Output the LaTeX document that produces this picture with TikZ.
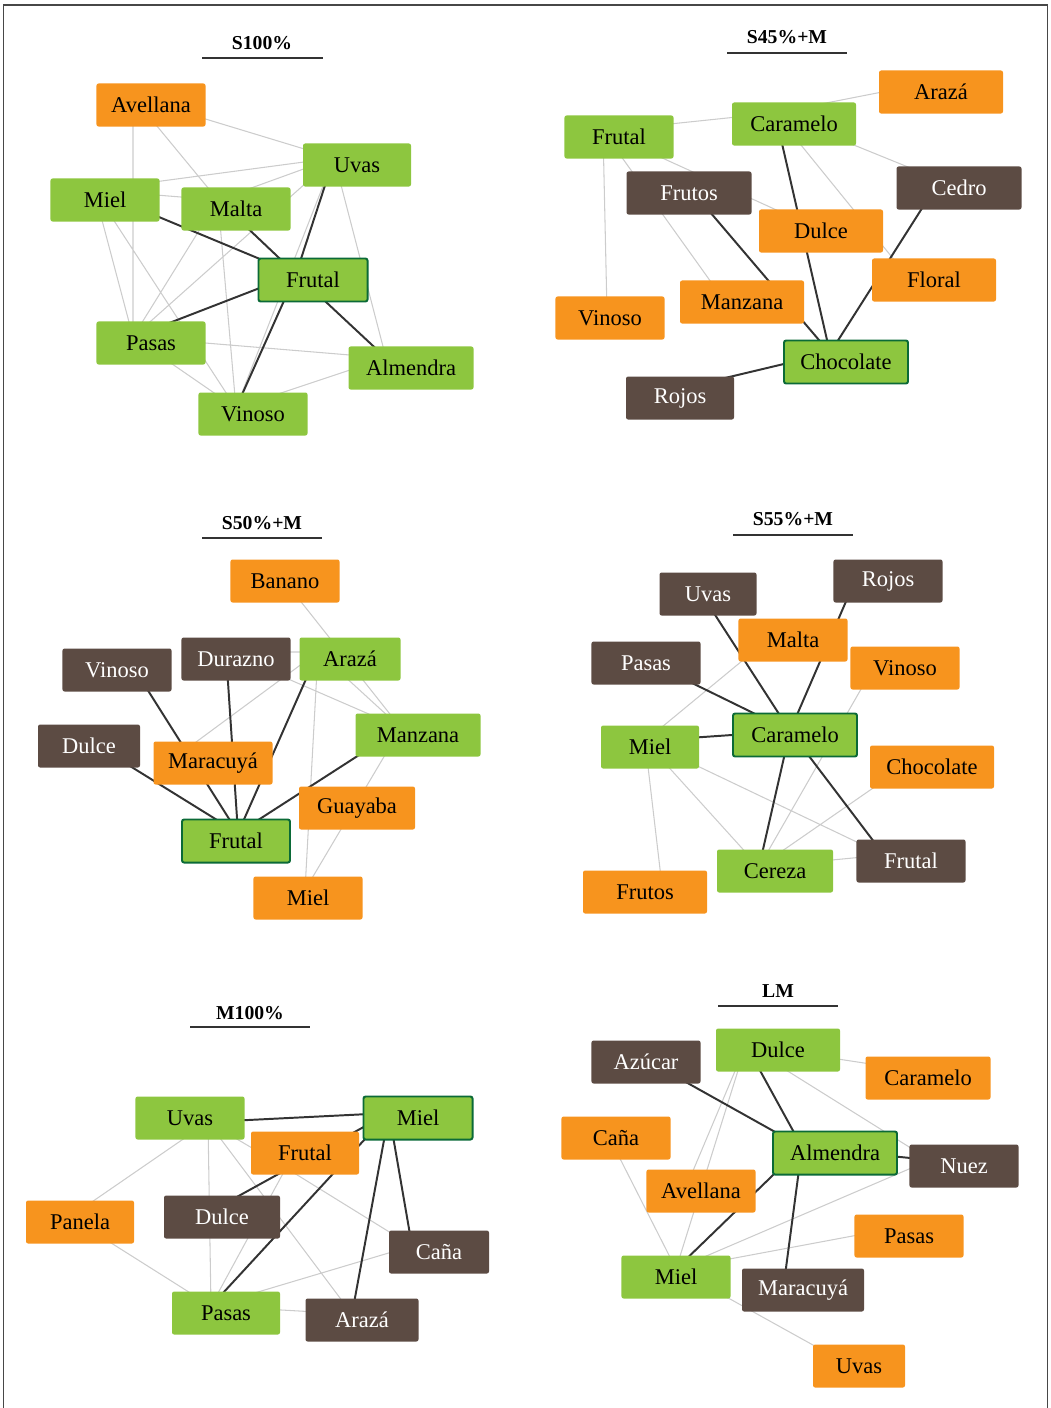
\documentclass[tikz,border=0pt]{standalone}
\usepackage{fontspec}
\setmainfont{Liberation Serif}

\definecolor{leafgreen}{HTML}{8DC63F}
\definecolor{tanorange}{HTML}{F7941E}
\definecolor{barkbrown}{HTML}{5C4B43}
\definecolor{rimgreen}{HTML}{0B6A37}
\definecolor{edgegrey}{HTML}{CCCCCC}
\definecolor{edgedark}{HTML}{333333}

\tikzset{
  box/.style={rectangle, rounded corners=1.5pt, inner sep=2pt,
    minimum width=2.725cm, minimum height=1.075cm,
    font=\fontsize{16}{19}\selectfont},
  gbox/.style={box, fill=leafgreen},
  obox/.style={box, fill=tanorange},
  bbox/.style={box, fill=barkbrown, text=white},
  core/.style={box, fill=leafgreen, draw=rimgreen, line width=1.4pt},
  wd/.style={minimum width=#1*0.025cm},
  weak/.style={edgegrey, line width=0.75pt},
  strong/.style={edgedark, line width=1.4pt},
  title/.style={font=\fontsize{14}{17}\selectfont\bfseries},
  rule/.style={edgedark, line width=1.2pt},
}

\begin{document}
\begin{tikzpicture}[x=0.025cm, y=-0.025cm]
\useasboundingbox (0,0) rectangle (1051,1408);
% marco
\draw[edgedark!90, line width=1.2pt] (3.5,1408) |- (1047.5,5) -- (1047.5,1408);

% S100%
\begin{scope}[name prefix=s1-]
  \node[title] (head) at (262,43) {S100\%};
  \draw[rule] (202,58) -- (323,58);
  \coordinate (av) at (133,97);
  \coordinate (uv) at (334,158);
  \coordinate (mi) at (94,190);
  \coordinate (ma) at (218,200);
  \coordinate (fr) at (296,274);
  \coordinate (pa) at (133,337);
  \coordinate (al) at (386,358);
  \coordinate (vi) at (236,408);
  \draw[weak] (av) -- (uv) (av) -- (pa) (av) -- (ma) (mi) -- (uv)
    (ma) -- (uv) (mi) -- (ma) (uv) -- (pa) (ma) -- (pa) (mi) -- (pa)
    (mi) -- (vi) (ma) -- (vi) (uv) -- (al) (uv) -- (vi) (pa) -- (al)
    (pa) -- (vi) (al) -- (vi);
  \draw[strong] (mi) -- (fr) (ma) -- (fr) (uv) -- (fr) (pa) -- (fr)
    (fr) -- (al) (fr) -- (vi);
  \node[obox] (avellana) at (151,105) {Avellana};
  \node[gbox, wd=108] (uvas) at (357,165) {Uvas};
  \node[gbox] (miel) at (105,200) {Miel};
  \node[gbox] (malta) at (236,209) {Malta};
  \node[core] (frutal) at (313,280) {Frutal};
  \node[gbox] (pasas) at (151,343) {Pasas};
  \node[gbox, wd=125] (almendra) at (411,368) {Almendra};
  \node[gbox] (vinoso) at (253,414) {Vinoso};
\end{scope}

% S45%+M
\begin{scope}[name prefix=s2-]
  \node[title] (head) at (787,37) {S45\%+M};
  \draw[rule] (727,53) -- (847,53);
  \coordinate (ar) at (923,84);
  \coordinate (ca) at (775,113);
  \coordinate (fr) at (603,131);
  \coordinate (fs) at (687,185);
  \coordinate (ce) at (940,180);
  \coordinate (du) at (805,223);
  \coordinate (fl) at (904,272);
  \coordinate (ma) at (721,296);
  \coordinate (vi) at (607,312);
  \coordinate (ch) at (830,353);
  \coordinate (ro) at (662,393);
  \draw[weak] (ca) -- (ar) (fr) -- (ca) (fr) -- (vi) (fr) -- (ma)
    (fr) -- (du) (ca) -- (fl) (ca) -- (ce);
  \draw[strong] (ca) -- (ch) (fs) -- (ch) (ce) -- (ch) (ro) -- (ch);
  \node[obox, wd=124] (araza) at (941,92) {Arazá};
  \node[gbox, wd=124] (caramelo) at (794,124) {Caramelo};
  \node[gbox] (frutal) at (619,137) {Frutal};
  \node[bbox, wd=125] (frutos) at (689,193) {Frutos};
  \node[bbox, wd=125] (cedro) at (959,188) {Cedro};
  \node[obox, wd=124] (dulce) at (821,231) {Dulce};
  \node[obox, wd=124] (floral) at (934,280) {Floral};
  \node[obox, wd=124] (manzana) at (742,302) {Manzana};
  \node[obox] (vinoso) at (610,318) {Vinoso};
  \node[core, wd=124] (chocolate) at (846,362) {Chocolate};
  \node[bbox, wd=108] (rojos) at (680,398) {Rojos};
\end{scope}

% S50%+M
\begin{scope}[name prefix=s3-]
  \node[title] (head) at (262,523) {S50\%+M};
  \draw[rule] (202,538) -- (322,538);
  \coordinate (ba) at (279,574);
  \coordinate (dz) at (226,652);
  \coordinate (ar) at (318,652);
  \coordinate (vi) at (130,662);
  \coordinate (mz) at (401,728);
  \coordinate (du) at (80,735);
  \coordinate (mc) at (192,745);
  \coordinate (fr) at (238,833);
  \coordinate (mi) at (305,890);
  \draw[weak] (ba) -- (mz) (dz) -- (ar) (dz) -- (mz) (ar) -- (mc)
    (ar) -- (mz) (ar) -- (mi) (mz) -- (mi);
  \draw[strong] (vi) -- (fr) (dz) -- (fr) (ar) -- (fr) (du) -- (fr)
    (mz) -- (fr);
  \node[obox] (banano) at (285,581) {Banano};
  \node[bbox] (durazno) at (236,659) {Durazno};
  \node[gbox, wd=101] (araza) at (350,659) {Arazá};
  \node[bbox] (vinoso) at (117,670) {Vinoso};
  \node[gbox, wd=125] (manzana) at (418,735) {Manzana};
  \node[bbox, wd=102] (dulce) at (89,746) {Dulce};
  \node[obox, wd=119] (maracuya) at (213,763) {Maracuyá};
  \node[obox, wd=116] (guayaba) at (357,808) {Guayaba};
  \node[core, wd=108] (frutal) at (236,841) {Frutal};
  \node[obox] (miel) at (308,898) {Miel};
\end{scope}

% S55%+M
\begin{scope}[name prefix=s4-]
  \node[title] (head) at (793,519) {S55\%+M};
  \draw[rule] (733,535) -- (853,535);
  \coordinate (ro) at (857,576);
  \coordinate (uv) at (699,590);
  \coordinate (ml) at (788,623);
  \coordinate (pa) at (641,658);
  \coordinate (vi) at (876,663);
  \coordinate (ca) at (790,731);
  \coordinate (mi) at (645,741);
  \coordinate (ch) at (915,759);
  \coordinate (fr) at (884,855);
  \coordinate (ce) at (759,867);
  \coordinate (fs) at (662,886);
  \draw[weak] (ml) -- (mi) (vi) -- (ce) (mi) -- (ce) (mi) -- (fr)
    (mi) -- (fs) (ch) -- (ce) (ce) -- (fr);
  \draw[strong] (uv) -- (ca) (ro) -- (ca) (pa) -- (ca) (mi) -- (ca)
    (ca) -- (ce) (ca) -- (fr);
  \node[bbox] (rojos) at (888,581) {Rojos};
  \node[bbox, wd=97] (uvas) at (708,594) {Uvas};
  \node[obox] (malta) at (793,640) {Malta};
  \node[bbox] (pasas) at (646,663) {Pasas};
  \node[obox] (vinoso) at (905,668) {Vinoso};
  \node[core, wd=124] (caramelo) at (795,735) {Caramelo};
  \node[gbox, wd=98] (miel) at (650,747) {Miel};
  \node[obox, wd=124] (chocolate) at (932,767) {Chocolate};
  \node[bbox] (frutal) at (911,861) {Frutal};
  \node[gbox, wd=116] (cereza) at (775,871) {Cereza};
  \node[obox, wd=124] (frutos) at (645,892) {Frutos};
\end{scope}

% M100%
\begin{scope}[name prefix=s5-]
  \node[title] (head) at (250,1013) {M100\%};
  \draw[rule] (190,1027) -- (310,1027);
  \coordinate (uv) at (208,1122);
  \coordinate (mi) at (389,1113);
  \coordinate (fr) at (286,1168);
  \coordinate (pn) at (70,1217);
  \coordinate (du) at (215,1209);
  \coordinate (ca) at (412,1246);
  \coordinate (pa) at (211,1306);
  \coordinate (ar) at (352,1314);
  \draw[weak] (uv) -- (fr) (uv) -- (pn) (uv) -- (pa) (uv) -- (ar)
    (fr) -- (pa) (fr) -- (ca) (pn) -- (pa) (ca) -- (pa) (pa) -- (ar);
  \draw[strong] (uv) -- (mi) (mi) -- (du) (mi) -- (pa) (mi) -- (ca)
    (mi) -- (ar);
  \node[gbox] (uvas) at (190,1118) {Uvas};
  \node[core] (miel) at (418,1118) {Miel};
  \node[obox, wd=108] (frutal) at (305,1153) {Frutal};
  \node[obox, wd=108] (panela) at (80,1222) {Panela};
  \node[bbox, wd=116] (dulce) at (222,1217) {Dulce};
  \node[bbox, wd=100] (cana) at (439,1252) {Caña};
  \node[gbox, wd=108] (pasas) at (226,1313) {Pasas};
  \node[bbox, wd=113] (araza) at (362,1320) {Arazá};
\end{scope}

% LM
\begin{scope}[name prefix=s6-]
  \node[title] (head) at (778,991) {LM};
  \draw[rule] (718,1006) -- (838,1006);
  \coordinate (du) at (746,1045);
  \coordinate (az) at (650,1062);
  \coordinate (cr) at (910,1070);
  \coordinate (cn) at (606,1131);
  \coordinate (al) at (802,1147);
  \coordinate (nu) at (930,1160);
  \coordinate (av) at (687,1185);
  \coordinate (pa) at (890,1229);
  \coordinate (mi) at (676,1269);
  \coordinate (mr) at (784,1283);
  \coordinate (uv) at (840,1360);
  \draw[weak] (du) -- (cr) (du) -- (nu) (du) -- (av) (du) -- (mi)
    (cn) -- (mi) (nu) -- (mi) (pa) -- (mi) (mi) -- (uv);
  \draw[strong] (az) -- (al) (du) -- (al) (al) -- (nu) (mi) -- (al)
    (al) -- (mr);
  \node[gbox, wd=124] (dulce) at (778,1050) {Dulce};
  \node[bbox] (azucar) at (646,1062) {Azúcar};
  \node[obox, wd=125] (caramelo) at (928,1078) {Caramelo};
  \node[obox] (cana) at (616,1138) {Caña};
  \node[core, wd=124] (almendra) at (835,1153) {Almendra};
  \node[bbox] (nuez) at (964,1166) {Nuez};
  \node[obox] (avellana) at (701,1191) {Avellana};
  \node[obox] (pasas) at (909,1236) {Pasas};
  \node[gbox] (miel) at (676,1277) {Miel};
  \node[bbox, wd=122] (maracuya) at (803,1290) {Maracuyá};
  \node[obox, wd=92] (uvas) at (859,1366) {Uvas};
\end{scope}
\end{tikzpicture}
\end{document}
